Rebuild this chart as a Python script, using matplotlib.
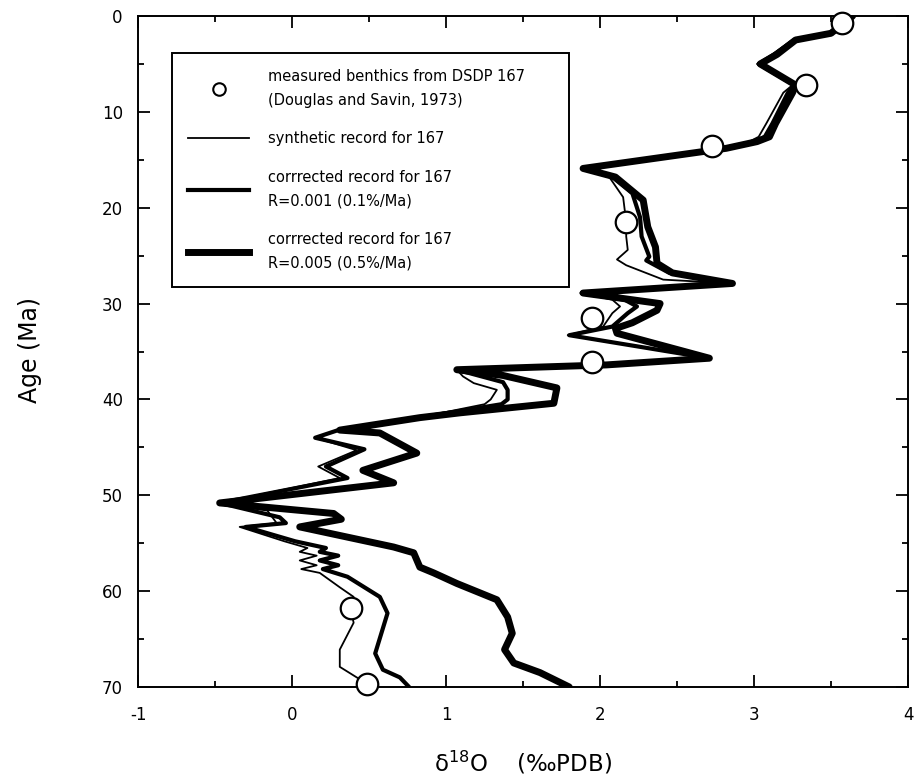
import matplotlib
matplotlib.use("Agg")
import matplotlib.pyplot as plt
from matplotlib.lines import Line2D

plt.rcParams['font.family'] = ['DejaVu Sans']
plt.rcParams['axes.unicode_minus'] = False

# measured benthic d18O, DSDP 167 (Douglas and Savin, 1973)
meas_d18o = [3.57, 3.34, 2.73, 2.17, 1.95, 1.95, 0.38, 0.49]
meas_age = [0.7, 7.2, 13.6, 21.5, 31.5, 36.1, 61.8, 69.7]

# synthetic record
syn_age = [0, 1.8, 2.5, 4, 5, 7.2, 8, 11.2, 12.6, 13.1, 13.8, 15.9, 16.8, 18.9,
           21.5, 23, 24.4, 25.4, 26, 27.5, 27.9, 28.9, 29.6, 30.3, 31, 32.4, 33.3,
           35.7, 36.4, 36.9, 37.6, 38.3, 39, 40, 40.5, 41.8, 43.2, 44.0, 45.3, 47.0,
           48.2, 50.8, 51.6, 52.9, 53.3, 54.8, 55.5, 55.9, 56.3, 56.8, 57.3, 57.7,
           58.1, 59.6, 60.6, 61.8, 63.3, 66.1, 67.9, 69.0, 69.7, 70]
syn_d18o = [3.64, 3.49, 3.25, 3.12, 3.02, 3.25, 3.19, 3.08, 3.03, 2.97, 2.80, 1.88, 2.06, 2.15,
            2.17, 2.17, 2.18, 2.11, 2.17, 2.41, 2.86, 1.88, 2.08, 2.13, 2.08, 2.02, 1.79,
            2.71, 2.04, 1.07, 1.11, 1.18, 1.33, 1.29, 1.25, 0.85, 0.30, 0.15, 0.42, 0.17,
            0.31, -0.47, -0.16, -0.10, -0.34, -0.05, 0.10, 0.05, 0.16, 0.05, 0.16, 0.06,
            0.18, 0.31, 0.40, 0.38, 0.40, 0.31, 0.31, 0.42, 0.49, 0.50]

# corrected, R=0.001
r1_age = [0, 1.8, 2.5, 4, 5, 7.2, 8, 11.2, 12.6, 13.1, 13.8, 15.9, 16.8, 18.5,
          21, 23, 25.1, 25.5, 26.8, 27.9, 28.9, 29.6, 30.3, 31, 32.4, 33.3,
          35.7, 36.4, 36.9, 38.2, 39, 40, 40.5, 41.8, 43.2, 44.0, 45.2, 47.0,
          48.2, 50.8, 52.3, 52.9, 53.3, 54.8, 55.5, 55.9, 56.3, 56.8, 57.3, 57.7,
          58.5, 60.6, 62.3, 64.4, 66.5, 68.2, 69.0, 70]
r1_d18o = [3.64, 3.49, 3.26, 3.13, 3.03, 3.26, 3.22, 3.12, 3.07, 3.00, 2.81, 1.89, 2.08, 2.21,
           2.26, 2.27, 2.32, 2.30, 2.45, 2.86, 1.88, 2.16, 2.24, 2.18, 2.08, 1.80,
           2.71, 2.04, 1.07, 1.37, 1.40, 1.40, 1.36, 0.86, 0.30, 0.15, 0.47, 0.22,
           0.36, -0.47, -0.08, -0.04, -0.30, 0.02, 0.22, 0.18, 0.30, 0.18, 0.30, 0.20,
           0.36, 0.57, 0.62, 0.58, 0.54, 0.59, 0.70, 0.76]

# corrected, R=0.005
r5_age = [0, 1.8, 2.5, 4, 5, 7.2, 8, 11.2, 12.6, 13.1, 13.8, 15.9, 16.8, 19.2,
          22, 24.1, 25.8, 26.8, 27.9, 28.9, 30, 30.7, 32, 32.6, 33.1, 35.7,
          36.4, 36.9, 37.5, 38.8, 40.4, 41.4, 41.9, 43.2, 43.5, 45.6, 47.4, 48.7,
          50.8, 51.9, 52.5, 53.3, 55.4, 56.0, 57.5, 58.1, 59.2, 60.9, 62.7, 64.4,
          66.1, 67.5, 68.5, 70]
r5_d18o = [3.64, 3.50, 3.27, 3.15, 3.04, 3.27, 3.25, 3.14, 3.10, 3.02, 2.82, 1.89, 2.10, 2.28,
           2.31, 2.36, 2.37, 2.47, 2.86, 1.89, 2.39, 2.37, 2.21, 2.10, 2.11, 2.71,
           2.04, 1.07, 1.37, 1.72, 1.70, 1.09, 0.83, 0.31, 0.57, 0.81, 0.46, 0.66,
           -0.47, 0.27, 0.32, 0.05, 0.66, 0.79, 0.83, 0.92, 1.07, 1.33, 1.40, 1.43,
           1.38, 1.44, 1.61, 1.80]

fig = plt.figure(figsize=(9.16, 7.78), dpi=100)
ax = fig.add_axes([0.1507, 0.117, 0.8406, 0.8624])

kw = dict(color='black', solid_joinstyle='round', solid_capstyle='round')
ax.plot(r5_d18o, r5_age, lw=5.0, **kw)
ax.plot(r1_d18o, r1_age, lw=3.0, **kw)
ax.plot(syn_d18o, syn_age, lw=1.3, **kw)
ax.plot(meas_d18o, meas_age, 'o', ms=15.5, mfc='white', mec='black', mew=1.6,
        zorder=5, clip_on=False)

ax.set_xlim(-1, 4)
ax.set_ylim(70, 0)
ax.set_xticks([-1, 0, 1, 2, 3, 4])
ax.set_xticks([-0.5, 0.5, 1.5, 2.5, 3.5], minor=True)
ax.set_yticks(range(0, 71, 10))
ax.set_yticks(range(5, 70, 10), minor=True)
ax.tick_params(which='both', direction='in', top=True, right=True, width=1.3,
               labelsize=12)
ax.tick_params(which='major', length=8.5)
ax.tick_params(which='minor', length=4.5)
ax.tick_params(axis='x', pad=14)
ax.tick_params(axis='y', pad=11)
for s in ax.spines.values():
    s.set_linewidth(1.4)

ax.set_xlabel(r'$\mathregular{δ^{18}O}$    (‰PDB)', fontsize=16.5)
ax.xaxis.set_label_coords(0.5, -0.092)
ax.set_ylabel('Age (Ma)', fontsize=17)
ax.yaxis.set_label_coords(-0.125, 0.502)

handles = [
    Line2D([], [], ls='none', marker='o', ms=9, mfc='white', mec='black', mew=1.5),
    Line2D([], [], color='black', lw=1.3),
    Line2D([], [], color='black', lw=3.0),
    Line2D([], [], color='black', lw=5.0),
]
labels = [
    'measured benthics from DSDP 167      \n(Douglas and Savin, 1973)',
    'synthetic record for 167',
    'corrrected record for 167\nR=0.001 (0.1%/Ma)',
    'corrrected record for 167\nR=0.005 (0.5%/Ma)',
]
leg = ax.legend(handles, labels, loc='upper left', bbox_to_anchor=(0.044, 0.945),
                borderaxespad=0, fontsize=10.5, handlelength=4.2, handletextpad=1.3,
                borderpad=1.1, labelspacing=1.6, fancybox=False, framealpha=1,
                edgecolor='black')
leg.get_frame().set_linewidth(1.4)
for t in leg.get_texts():
    t.set_linespacing(1.75)

fig.savefig('out.png', dpi=100)
